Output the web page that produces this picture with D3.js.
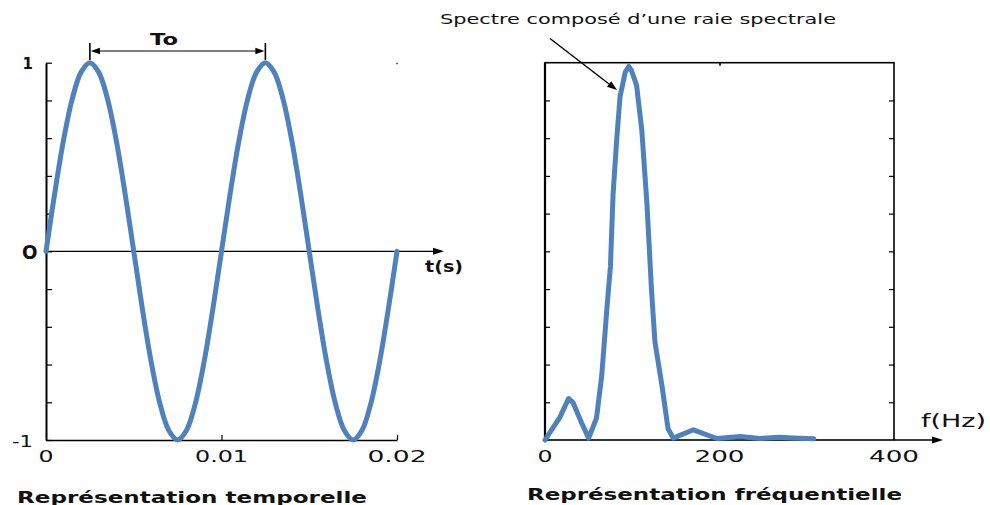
<!DOCTYPE html>
<html>
<head>
<meta charset="utf-8">
<script src="https://cdn.jsdelivr.net/npm/d3@7"></script>
<style>
  html, body { margin: 0; padding: 0; background: #fff; }
  svg { display: block; }
  text { font-family: "DejaVu Sans", Verdana, sans-serif; fill: #111; }
</style>
</head>
<body>
<svg id="chart" width="990" height="505"></svg>
<script>
// ---- Time-domain signal (seconds, amplitude) ----
const timeSamples = [
  0, 0.0005, 0.001, 0.0015, 0.002, 0.0025, 0.003, 0.0035, 0.004, 0.0045,
  0.005, 0.0055, 0.006, 0.0065, 0.007, 0.0075, 0.008, 0.0085, 0.009, 0.0095,
  0.01, 0.0105, 0.011, 0.0115, 0.012, 0.0125, 0.013, 0.0135, 0.014, 0.0145,
  0.015, 0.0155, 0.016, 0.0165, 0.017, 0.0175, 0.018, 0.0185, 0.019, 0.0195, 0.02
];
const amplitude = [
  0, 0.31, 0.59, 0.81, 0.95, 1, 0.95, 0.81, 0.59, 0.31,
  0, -0.31, -0.59, -0.81, -0.95, -1, -0.95, -0.81, -0.59, -0.31,
  0, 0.31, 0.59, 0.81, 0.95, 1, 0.95, 0.81, 0.59, 0.31,
  0, -0.31, -0.59, -0.81, -0.95, -1, -0.95, -0.81, -0.59, -0.31, 0
];
const timeTickValues = [0, 0.01, 0.02];
const timeTickLabels = ["0", "0.01", "0.02"];
const ampTickValues = [1, 0, -1];
const ampTickLabels = ["1", "O", "-1"];

// ---- Spectrum (Hz, magnitude) ----
const frequencies = [
  0, 17, 27, 32, 42, 50, 59, 65, 71, 75, 78, 82, 86, 92, 96, 99, 105, 111,
  117, 122, 126, 134, 141, 147, 170, 197, 224, 246, 269, 284, 308
];
const magnitude = [
  0, 0.06, 0.11, 0.10, 0.045, 0.005, 0.058, 0.17, 0.35, 0.46, 0.65, 0.79, 0.91,
  0.975, 0.99, 0.98, 0.94, 0.82, 0.62, 0.40, 0.26, 0.145, 0.03, 0.005, 0.027,
  0.004, 0.009, 0.004, 0.007, 0.005, 0.003
];
const freqTickValues = [0, 200, 400];
const freqTickLabels = ["0", "200", "400"];

const BLUE = "#4f81bd";
const svg = d3.select("#chart");

// Stretched text helper
function label(x, y, str, size, opts = {}) {
  const t = svg.append("text")
    .attr("x", x).attr("y", y)
    .attr("font-size", size)
    .attr("font-weight", opts.bold ? "bold" : "normal")
    .attr("text-anchor", opts.anchor || "start")
    .text(str);
  if (opts.len) t.attr("textLength", opts.len).attr("lengthAdjust", "spacingAndGlyphs");
  return t;
}

function arrowHead(tipX, tipY, angle, len = 10, half = 3.5) {
  // angle: direction of travel in radians
  const c = Math.cos(angle), s = Math.sin(angle);
  const bx = tipX - c * len, by = tipY - s * len;
  const p = [[tipX, tipY], [bx - s * half, by + c * half], [bx + s * half, by - c * half]];
  svg.append("path").attr("d", "M" + p.map(d => d.join(",")).join("L") + "Z").attr("fill", "#000");
}

// ================= Left: temporal representation =================
const xT = d3.scaleLinear().domain([0, 0.02]).range([46, 397]);
const yT = d3.scaleLinear().domain([-1, 1]).range([440, 62.7]);

// bottom axis (at -1)
svg.append("g")
  .attr("transform", `translate(0,${yT(-1)})`)
  .call(d3.axisBottom(xT).tickValues([0.01, 0.02]).tickSize(-5).tickSizeOuter(0).tickFormat(""))
  .call(g => g.select(".domain").attr("stroke-width", 1.6))
  .call(g => g.selectAll(".tick line").attr("stroke-width", 1.2));

// left axis
svg.append("g")
  .attr("transform", `translate(${xT(0)},0)`)
  .call(d3.axisLeft(yT).tickValues(d3.range(-1, 1.01, 0.2)).tickSize(-6).tickSizeOuter(0).tickFormat(""))
  .call(g => g.select(".domain").attr("stroke-width", 2))
  .call(g => g.selectAll(".tick line").attr("stroke-width", 1.2));

// tiny top-right corner tick
svg.append("line").attr("x1", xT(0.02)).attr("x2", xT(0.02))
  .attr("y1", yT(1)).attr("y2", yT(1) + 1.5).attr("stroke", "#000").attr("stroke-width", 1.2);

// zero axis with arrow
svg.append("line")
  .attr("x1", xT(0)).attr("x2", 436)
  .attr("y1", yT(0)).attr("y2", yT(0))
  .attr("stroke", "#000").attr("stroke-width", 1.4);
arrowHead(444, yT(0), 0, 11, 3.5);

// the signal
svg.append("path")
  .datum(timeSamples.map((t, i) => [t, amplitude[i]]))
  .attr("fill", "none")
  .attr("stroke", BLUE)
  .attr("stroke-width", 5)
  .attr("stroke-linejoin", "round")
  .attr("stroke-linecap", "round")
  .attr("d", d3.line().x(d => xT(d[0])).y(d => yT(d[1])).curve(d3.curveCatmullRom));

// period marker "To"
const tPeak1 = 0.0025, tPeak2 = 0.0125;
[tPeak1, tPeak2].forEach(t => {
  svg.append("line").attr("x1", xT(t)).attr("x2", xT(t)).attr("y1", 43).attr("y2", 60)
    .attr("stroke", "#000").attr("stroke-width", 1.6);
});
svg.append("line").attr("x1", xT(tPeak1) + 6).attr("x2", xT(tPeak2) - 6).attr("y1", 51).attr("y2", 51)
  .attr("stroke", "#000").attr("stroke-width", 1.2);
arrowHead(xT(tPeak1) + 1, 51, Math.PI, 9, 3.2);
arrowHead(xT(tPeak2) - 1, 51, 0, 9, 3.2);
label(150, 44.5, "To", 15, { bold: true, len: 28 });

// amplitude labels
label(33, yT(1) + 6, ampTickLabels[0], 15, { bold: true, anchor: "end" });
label(22, yT(0) + 8, ampTickLabels[1], 20, { len: 15.5 }).attr("font-weight", 600);
label(12, yT(-1) + 7, ampTickLabels[2], 16, { len: 21 });

// time tick labels
const timeLens = [15, 53, 59];
timeTickValues.forEach((v, i) => {
  label(xT(v) - timeLens[i] / 2 + (i === 0 ? 0 : 0), 462, timeTickLabels[i], 16, { len: timeLens[i] });
});
label(425, 271.5, "t(s)", 15, { bold: true, len: 38 });
label(17, 502.5, "Représentation temporelle", 15, { bold: true, len: 350 });

// ================= Right: frequency representation =================
const xF = d3.scaleLinear().domain([0, 400]).range([545, 894]);
const yF = d3.scaleLinear().domain([0, 1]).range([440, 62.7]);
const magTicks = d3.range(0.1, 0.95, 0.1);

// frame
svg.append("rect")
  .attr("x", xF(0)).attr("y", yF(1))
  .attr("width", xF(400) - xF(0)).attr("height", yF(0) - yF(1))
  .attr("fill", "none").attr("stroke", "#000").attr("stroke-width", 1.6);
svg.append("line").attr("x1", xF(0)).attr("x2", xF(0)).attr("y1", yF(1)).attr("y2", yF(0))
  .attr("stroke", "#000").attr("stroke-width", 2.2);

// inward ticks left and right
svg.append("g").attr("transform", `translate(${xF(0)},0)`)
  .call(d3.axisLeft(yF).tickValues(magTicks).tickSize(-5).tickSizeOuter(0).tickFormat(""))
  .call(g => g.select(".domain").remove())
  .call(g => g.selectAll(".tick line").attr("stroke-width", 1.2));
svg.append("g").attr("transform", `translate(${xF(400)},0)`)
  .call(d3.axisRight(yF).tickValues(magTicks).tickSize(-5).tickSizeOuter(0).tickFormat(""))
  .call(g => g.select(".domain").remove())
  .call(g => g.selectAll(".tick line").attr("stroke-width", 1.2));
// top and bottom middle ticks
svg.append("g").attr("transform", `translate(0,${yF(1)})`)
  .call(d3.axisTop(xF).tickValues([200]).tickSize(-3).tickSizeOuter(0).tickFormat(""))
  .call(g => g.select(".domain").remove())
  .call(g => g.selectAll(".tick line").attr("stroke-width", 1.6));
svg.append("g").attr("transform", `translate(0,${yF(0)})`)
  .call(d3.axisBottom(xF).tickValues([200]).tickSize(-2).tickSizeOuter(0).tickFormat(""))
  .call(g => g.select(".domain").remove())
  .call(g => g.selectAll(".tick line").attr("stroke-width", 1.4));

// x axis extension with arrow
svg.append("line").attr("x1", xF(400)).attr("x2", 935).attr("y1", yF(0)).attr("y2", yF(0))
  .attr("stroke", "#000").attr("stroke-width", 1.6);
arrowHead(943, yF(0), 0, 11, 3.5);

// spectrum line
svg.append("path")
  .datum(frequencies.map((f, i) => [f, magnitude[i]]))
  .attr("fill", "none")
  .attr("stroke", BLUE)
  .attr("stroke-width", 5)
  .attr("stroke-linejoin", "round")
  .attr("stroke-linecap", "round")
  .attr("d", d3.line().x(d => xF(d[0])).y(d => yF(d[1])));

// frequency tick labels
const freqLens = [15, 50, 50];
freqTickValues.forEach((v, i) => {
  label(xF(v) - freqLens[i] / 2, 462, freqTickLabels[i], 16, { len: freqLens[i] });
});
label(921, 427, "f(Hz)", 17, { len: 65 });
label(527, 499.5, "Représentation fréquentielle", 15, { bold: true, len: 375 });

// annotation
label(440, 23.5, "Spectre composé d’une raie spectrale", 14, { len: 396 });
svg.append("line").attr("x1", 550).attr("y1", 38.5).attr("x2", 611).attr("y2", 85.5)
  .attr("stroke", "#000").attr("stroke-width", 1.4);
arrowHead(617, 90, Math.atan2(90 - 38.5, 617 - 550), 10, 3.5);
</script>
</body>
</html>
